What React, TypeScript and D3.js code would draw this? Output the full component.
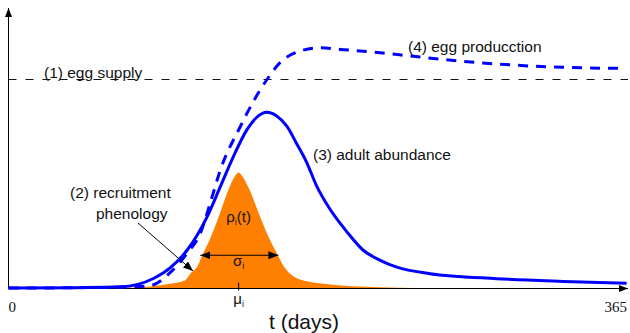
import React, { useEffect, useRef } from 'react';
import * as d3 from 'd3';

// [day, value] pairs (value 1 = egg supply level)
const adultAbundance: [number, number][] = [
  [0, 0.002], [40, 0.004], [66, 0.008], [85.4, 0.048], [95.4, 0.1], [105.2, 0.183],
  [117, 0.343], [124.8, 0.487], [132.5, 0.631], [140.5, 0.76], [146, 0.817],
  [152.3, 0.843], [157.8, 0.827], [164.1, 0.776], [169.5, 0.697], [175.8, 0.601],
  [181.3, 0.495], [188.5, 0.391], [199.4, 0.271], [209, 0.183], [219, 0.135],
  [228.8, 0.102], [248.4, 0.071], [287.7, 0.047], [326.7, 0.034], [364.2, 0.025]
];

const eggProduction: [number, number][] = [
  [0, 0.002], [66, 0.006], [83.6, 0.014], [95.4, 0.077], [105.2, 0.168], [113, 0.264],
  [118.9, 0.41], [124.8, 0.567], [136.6, 0.775], [144.2, 0.894], [152.3, 1.0],
  [160.1, 1.082], [171.9, 1.136], [183.7, 1.152], [195.4, 1.144], [219, 1.128],
  [238.4, 1.111], [277.9, 1.08], [317.1, 1.061], [362.1, 1.053]
];

const recruitment: [number, number][] = [
  [50, 0], [66, 0.003], [83.6, 0.01], [95.4, 0.023], [104.2, 0.04], [107.1, 0.07],
  [111.3, 0.106], [114.2, 0.159], [118.9, 0.24], [124.8, 0.365], [129.5, 0.471],
  [133.1, 0.534], [135.6, 0.555], [138.1, 0.534], [142.1, 0.471], [147.2, 0.365],
  [153.6, 0.24], [158.7, 0.159], [161.9, 0.11], [166, 0.07], [173.7, 0.038],
  [189.6, 0.019], [207.2, 0.009], [230.8, 0.004], [260, 0.001], [290, 0]
];

const eggSupply = 1;
const tickDays = [0, 365];
const muDay = 135.6;
const sigmaSpan: [number, number] = [113, 159];
const sigmaLevel = 0.159;

const W = 630;
const H = 333;
const SANS = '"Liberation Sans", Arial, sans-serif';
const SERIF = '"Liberation Serif", "Times New Roman", serif';
const LABEL = 15.5;

export default function App() {
  const svgRef = useRef<SVGSVGElement>(null);

  useEffect(() => {
    if (!svgRef.current) return;
    const svg = d3.select(svgRef.current);
    svg.selectAll('*').remove();

    const x = d3.scaleLinear().domain([0, 365]).range([8.5, 628]);
    const y = d3.scaleLinear().domain([0, 1]).range([288.5, 79.5]);

    const defs = svg.append('defs');
    const mk = (id: string, len: number, half: number) => {
      defs.append('marker')
        .attr('id', id)
        .attr('viewBox', `0 ${-half} ${len} ${half * 2}`)
        .attr('refX', len)
        .attr('refY', 0)
        .attr('markerWidth', len)
        .attr('markerHeight', half * 2)
        .attr('markerUnits', 'userSpaceOnUse')
        .attr('orient', 'auto-start-reverse')
        .append('path')
        .attr('d', `M0,${-half}L${len},0L0,${half}Z`)
        .attr('fill', '#000');
    };
    mk('axisHead', 9, 3.5);
    mk('noteHead', 10, 4);

    // recruitment phenology
    const area = d3.area<[number, number]>()
      .x(d => x(d[0]))
      .y0(y(0))
      .y1(d => y(d[1]))
      .curve(d3.curveMonotoneX);
    svg.append('path')
      .datum(recruitment)
      .attr('d', area)
      .attr('fill', '#ff8000');

    // axes
    svg.append('line')
      .attr('x1', x(0)).attr('y1', y(0))
      .attr('x2', x(365)).attr('y2', y(0))
      .attr('stroke', '#000').attr('stroke-width', 1)
      .attr('marker-end', 'url(#axisHead)');
    svg.append('line')
      .attr('x1', x(0)).attr('y1', y(0))
      .attr('x2', x(0)).attr('y2', 8)
      .attr('stroke', '#000').attr('stroke-width', 1)
      .attr('marker-end', 'url(#axisHead)');

    // egg supply
    svg.append('line')
      .attr('x1', x(0)).attr('x2', x(365))
      .attr('y1', y(eggSupply)).attr('y2', y(eggSupply))
      .attr('stroke', '#111').attr('stroke-width', 1)
      .attr('stroke-dasharray', '8,9');

    const line = d3.line<[number, number]>()
      .x(d => x(d[0]))
      .y(d => y(d[1]))
      .curve(d3.curveMonotoneX);

    svg.append('path')
      .datum(adultAbundance)
      .attr('d', line)
      .attr('fill', 'none')
      .attr('stroke', '#0000ff')
      .attr('stroke-width', 3);

    svg.append('path')
      .datum(eggProduction)
      .attr('d', line)
      .attr('fill', 'none')
      .attr('stroke', '#0000ff')
      .attr('stroke-width', 3)
      .attr('stroke-dasharray', '10,8');

    // mu tick
    svg.append('line')
      .attr('x1', x(muDay)).attr('x2', x(muDay))
      .attr('y1', y(0) - 6).attr('y2', y(0) + 2)
      .attr('stroke', '#000').attr('stroke-width', 1);

    // sigma arrow
    svg.append('line')
      .attr('x1', x(sigmaSpan[0])).attr('x2', x(sigmaSpan[1]))
      .attr('y1', y(sigmaLevel)).attr('y2', y(sigmaLevel))
      .attr('stroke', '#000').attr('stroke-width', 1.2)
      .attr('marker-start', 'url(#noteHead)')
      .attr('marker-end', 'url(#noteHead)');

    // recruitment pointer
    svg.append('line')
      .attr('x1', 138).attr('y1', 223)
      .attr('x2', 193).attr('y2', 271)
      .attr('stroke', '#000').attr('stroke-width', 1)
      .attr('marker-end', 'url(#noteHead)');

    const text = (tx: number, ty: number, s: string, size = LABEL, anchor = 'start', font = SANS) =>
      svg.append('text')
        .attr('x', tx).attr('y', ty)
        .attr('font-family', font)
        .attr('font-size', size)
        .attr('text-anchor', anchor)
        .attr('fill', '#111')
        .text(s);

    text(44, 78, '(1) egg supply');
    text(70, 198, '(2) recruitment');
    text(96, 219, 'phenology');
    text(313, 160, '(3) adult abundance');
    text(408, 52, '(4) egg producction');

    // rho_i(t), sigma_i, mu_i with subscripts
    const sub = (tx: number, ty: number, main: string, s: string, tail = '') => {
      const t = svg.append('text')
        .attr('x', tx).attr('y', ty)
        .attr('font-family', SANS)
        .attr('font-size', 15)
        .attr('text-anchor', 'middle')
        .attr('fill', '#111');
      t.append('tspan').text(main);
      t.append('tspan').attr('font-size', 9).attr('dy', 3).text(s);
      if (tail) t.append('tspan').attr('dy', -3).text(tail);
    };
    sub(x(muDay), 222, 'ρ', 'i', '(t)');
    sub(x(muDay), 266, 'σ', 'i');
    sub(x(muDay), 304, 'μ', 'i');

    tickDays.forEach((d, i) => {
      text(i === 0 ? x(d) : x(d) - 1, 312, String(d), 15, i === 0 ? 'start' : 'end', SERIF);
    });

    text(304, 329, 't (days)', 21, 'middle');
  }, []);

  return (
    <svg
      ref={svgRef}
      width={W}
      height={H}
      style={{ position: 'absolute', left: 0, top: 0, background: '#fff' }}
    />
  );
}
